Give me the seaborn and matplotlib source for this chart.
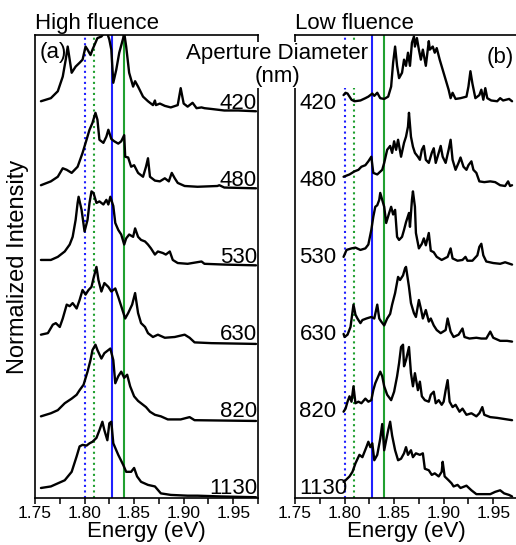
import numpy as np
import matplotlib
matplotlib.use("Agg")
import matplotlib.pyplot as plt
from matplotlib.ticker import MultipleLocator
import seaborn as sns

sns.set_theme(style="ticks")
plt.rcParams['font.family'] = ['Liberation Sans', 'DejaVu Sans']
plt.rcParams['text.color'] = 'black'
plt.rcParams['axes.labelcolor'] = 'black'
plt.rcParams['xtick.color'] = 'black'
plt.rcParams['xtick.labelcolor'] = 'black'

# aperture diameters (nm), top to bottom
diameters = ['420', '480', '530', '630', '820', '1130']

# reference energies (eV) marked by vertical lines
line_energies = [1.800, 1.810, 1.828, 1.840]
line_colors = ['#2020ff', '#20a030', '#2020ff', '#20a030']
line_styles = [':', ':', '-', '-']

# high fluence spectra: (energy eV, normalized intensity)
high_420 = [(1.756, 0.15), (1.766, 0.19), (1.773, 0.28), (1.778, 0.47), (1.781, 0.69), (1.783, 0.86),
            (1.785, 0.69), (1.787, 0.52), (1.791, 0.60), (1.795, 0.65), (1.798, 0.69), (1.801, 0.86),
            (1.803, 0.82), (1.806, 0.75), (1.808, 0.82), (1.811, 0.91), (1.813, 0.97), (1.817, 0.99),
            (1.820, 1.04), (1.823, 1.03), (1.825, 0.95), (1.827, 0.82), (1.829, 0.39), (1.832, 0.56),
            (1.835, 0.78), (1.839, 0.97), (1.840, 1.04), (1.842, 0.86), (1.845, 0.52), (1.849, 0.34),
            (1.851, 0.41), (1.854, 0.34), (1.859, 0.21), (1.864, 0.15), (1.869, 0.10), (1.871, 0.16),
            (1.872, 0.10), (1.876, 0.12), (1.881, 0.09), (1.887, 0.07), (1.894, 0.10), (1.897, 0.32),
            (1.900, 0.12), (1.904, 0.08), (1.909, 0.13), (1.913, 0.06), (1.918, 0.07), (1.921, 0.06),
            (1.928, 0.05), (1.941, 0.03), (1.955, 0.03), (1.973, 0.02)]
high_480 = [(1.756, 0.06), (1.766, 0.11), (1.773, 0.17), (1.778, 0.28), (1.782, 0.26), (1.787, 0.22),
            (1.793, 0.30), (1.798, 0.48), (1.802, 0.65), (1.805, 0.78), (1.808, 0.87), (1.811, 1.00),
            (1.813, 0.91), (1.815, 0.65), (1.819, 0.61), (1.822, 0.69), (1.824, 0.78), (1.827, 0.66),
            (1.830, 0.63), (1.834, 0.60), (1.837, 0.63), (1.840, 0.71), (1.841, 0.43), (1.844, 0.42),
            (1.847, 0.30), (1.850, 0.32), (1.854, 0.22), (1.859, 0.17), (1.862, 0.30), (1.864, 0.41),
            (1.866, 0.17), (1.871, 0.12), (1.876, 0.11), (1.881, 0.15), (1.885, 0.11), (1.888, 0.22),
            (1.891, 0.15), (1.894, 0.09), (1.901, 0.05), (1.914, 0.04), (1.934, 0.05), (1.936, 0.06),
            (1.941, 0.03), (1.973, 0.02)]
high_530 = [(1.756, 0.09), (1.766, 0.09), (1.773, 0.13), (1.780, 0.20), (1.785, 0.29), (1.788, 0.39),
            (1.791, 0.61), (1.793, 0.83), (1.794, 0.91), (1.797, 0.74), (1.800, 0.46), (1.803, 0.61),
            (1.805, 0.83), (1.807, 0.98), (1.809, 0.96), (1.812, 0.83), (1.815, 0.85), (1.819, 0.81),
            (1.822, 0.87), (1.824, 0.81), (1.826, 0.91), (1.829, 0.79), (1.831, 0.57), (1.834, 0.48),
            (1.837, 0.42), (1.840, 0.29), (1.842, 0.37), (1.845, 0.42), (1.849, 0.39), (1.851, 0.50),
            (1.854, 0.39), (1.857, 0.35), (1.861, 0.33), (1.864, 0.29), (1.867, 0.24), (1.871, 0.16),
            (1.874, 0.20), (1.879, 0.18), (1.882, 0.16), (1.886, 0.20), (1.889, 0.09), (1.894, 0.05),
            (1.904, 0.04), (1.918, 0.07), (1.921, 0.04), (1.941, 0.03), (1.973, 0.02)]
high_630 = [(1.756, 0.12), (1.763, 0.14), (1.768, 0.25), (1.771, 0.27), (1.775, 0.22), (1.778, 0.33),
            (1.782, 0.51), (1.785, 0.49), (1.788, 0.53), (1.792, 0.46), (1.795, 0.57), (1.798, 0.70),
            (1.801, 0.64), (1.804, 0.70), (1.807, 0.74), (1.809, 0.85), (1.812, 1.00), (1.814, 0.83),
            (1.817, 0.68), (1.820, 0.79), (1.824, 0.74), (1.827, 0.68), (1.831, 0.72), (1.834, 0.61),
            (1.837, 0.49), (1.841, 0.33), (1.844, 0.40), (1.848, 0.51), (1.851, 0.66), (1.854, 0.40),
            (1.857, 0.27), (1.861, 0.22), (1.864, 0.14), (1.869, 0.09), (1.874, 0.12), (1.881, 0.08),
            (1.891, 0.09), (1.901, 0.12), (1.906, 0.08), (1.911, 0.02), (1.928, 0.01), (1.973, 0.00)]
high_820 = [(1.756, 0.06), (1.766, 0.10), (1.773, 0.14), (1.780, 0.23), (1.787, 0.29), (1.792, 0.34),
            (1.795, 0.40), (1.799, 0.47), (1.803, 0.64), (1.806, 0.79), (1.808, 0.92), (1.811, 0.99),
            (1.813, 0.92), (1.817, 0.81), (1.820, 0.88), (1.824, 0.92), (1.826, 0.94), (1.829, 0.79),
            (1.831, 0.49), (1.834, 0.58), (1.837, 0.64), (1.840, 0.56), (1.843, 0.60), (1.846, 0.45),
            (1.850, 0.32), (1.854, 0.26), (1.859, 0.21), (1.862, 0.18), (1.866, 0.12), (1.871, 0.08),
            (1.877, 0.06), (1.884, 0.02), (1.897, 0.02), (1.906, 0.05), (1.911, 0.01), (1.973, 0.00)]
high_1130 = [(1.756, 0.13), (1.766, 0.15), (1.773, 0.19), (1.780, 0.23), (1.787, 0.34), (1.792, 0.54),
             (1.795, 0.67), (1.798, 0.69), (1.802, 0.68), (1.805, 0.71), (1.808, 0.73), (1.812, 0.78),
             (1.815, 0.88), (1.818, 0.99), (1.820, 0.88), (1.823, 0.75), (1.825, 0.97), (1.827, 0.99),
             (1.829, 0.71), (1.834, 0.56), (1.839, 0.43), (1.842, 0.34), (1.847, 0.34), (1.850, 0.39),
             (1.853, 0.28), (1.857, 0.21), (1.864, 0.17), (1.871, 0.15), (1.877, 0.06), (1.887, 0.04),
             (1.904, 0.03), (1.914, 0.03), (1.938, 0.02), (1.973, 0.01)]

# low fluence spectra: (energy eV, normalized intensity)
low_420 = [(1.799, 0.23), (1.801, 0.26), (1.803, 0.25), (1.807, 0.17), (1.810, 0.15), (1.816, 0.16),
           (1.821, 0.19), (1.824, 0.21), (1.828, 0.25), (1.830, 0.22), (1.833, 0.26), (1.836, 0.19),
           (1.840, 0.18), (1.844, 0.21), (1.847, 0.34), (1.849, 0.65), (1.851, 0.86), (1.853, 0.61),
           (1.855, 0.45), (1.858, 0.52), (1.860, 0.69), (1.862, 0.61), (1.864, 0.78), (1.866, 0.61),
           (1.868, 0.91), (1.870, 0.99), (1.871, 0.86), (1.873, 0.97), (1.875, 0.82), (1.877, 0.69),
           (1.879, 0.82), (1.882, 0.61), (1.885, 0.93), (1.886, 0.82), (1.889, 0.86), (1.891, 0.78),
           (1.893, 0.84), (1.896, 0.69), (1.899, 0.56), (1.902, 0.43), (1.905, 0.30), (1.907, 0.19),
           (1.909, 0.26), (1.912, 0.18), (1.917, 0.19), (1.923, 0.21), (1.925, 0.34), (1.927, 0.54),
           (1.929, 0.38), (1.932, 0.19), (1.936, 0.23), (1.938, 0.30), (1.940, 0.17), (1.942, 0.32),
           (1.944, 0.19), (1.948, 0.16), (1.954, 0.15), (1.957, 0.19), (1.960, 0.16), (1.966, 0.18),
           (1.969, 0.15)]
low_480 = [(1.799, 0.17), (1.805, 0.20), (1.810, 0.24), (1.814, 0.26), (1.817, 0.30), (1.821, 0.32),
           (1.824, 0.37), (1.827, 0.43), (1.829, 0.22), (1.833, 0.20), (1.838, 0.26), (1.840, 0.35),
           (1.843, 0.52), (1.846, 0.57), (1.848, 0.48), (1.850, 0.63), (1.852, 0.52), (1.854, 0.65),
           (1.857, 0.43), (1.860, 0.61), (1.862, 0.69), (1.864, 0.82), (1.865, 1.00), (1.867, 0.69),
           (1.869, 0.56), (1.871, 0.48), (1.874, 0.43), (1.876, 0.39), (1.878, 0.52), (1.880, 0.57),
           (1.882, 0.39), (1.885, 0.35), (1.888, 0.48), (1.890, 0.54), (1.892, 0.35), (1.895, 0.48),
           (1.897, 0.57), (1.899, 0.43), (1.902, 0.35), (1.905, 0.52), (1.907, 0.65), (1.909, 0.39),
           (1.912, 0.26), (1.915, 0.35), (1.917, 0.42), (1.920, 0.30), (1.923, 0.26), (1.925, 0.32),
           (1.928, 0.37), (1.930, 0.26), (1.933, 0.22), (1.936, 0.11), (1.941, 0.10), (1.947, 0.11),
           (1.952, 0.10), (1.957, 0.06), (1.962, 0.05), (1.965, 0.11), (1.967, 0.05), (1.969, 0.06)]
low_530 = [(1.799, 0.13), (1.802, 0.22), (1.807, 0.24), (1.811, 0.25), (1.816, 0.22), (1.821, 0.24),
           (1.824, 0.29), (1.827, 0.48), (1.829, 0.65), (1.831, 0.78), (1.833, 0.80), (1.835, 0.87),
           (1.836, 0.96), (1.838, 0.87), (1.840, 0.78), (1.842, 0.57), (1.845, 0.70), (1.847, 0.78),
           (1.849, 0.68), (1.851, 0.74), (1.853, 0.39), (1.855, 0.35), (1.858, 0.39), (1.860, 0.48),
           (1.862, 0.58), (1.865, 0.70), (1.866, 0.52), (1.868, 0.87), (1.869, 0.98), (1.871, 0.78),
           (1.872, 0.44), (1.875, 0.24), (1.878, 0.30), (1.880, 0.37), (1.882, 0.28), (1.885, 0.44),
           (1.887, 0.21), (1.890, 0.19), (1.893, 0.13), (1.898, 0.09), (1.904, 0.13), (1.907, 0.24),
           (1.909, 0.11), (1.914, 0.08), (1.919, 0.09), (1.922, 0.13), (1.924, 0.08), (1.929, 0.08),
           (1.934, 0.15), (1.936, 0.26), (1.938, 0.30), (1.940, 0.15), (1.943, 0.07), (1.950, 0.05),
           (1.957, 0.04), (1.962, 0.06), (1.969, 0.03)]
low_630 = [(1.799, 0.13), (1.800, 0.09), (1.803, 0.12), (1.806, 0.22), (1.809, 0.51), (1.811, 0.38),
           (1.813, 0.33), (1.816, 0.27), (1.818, 0.31), (1.822, 0.33), (1.827, 0.35), (1.830, 0.33),
           (1.833, 0.51), (1.835, 0.33), (1.837, 0.29), (1.840, 0.24), (1.843, 0.33), (1.846, 0.39),
           (1.848, 0.51), (1.851, 0.66), (1.854, 0.87), (1.856, 0.83), (1.859, 0.89), (1.861, 0.98),
           (1.862, 1.00), (1.865, 0.74), (1.867, 0.53), (1.870, 0.40), (1.872, 0.35), (1.875, 0.57),
           (1.877, 0.46), (1.879, 0.33), (1.882, 0.44), (1.885, 0.29), (1.887, 0.33), (1.890, 0.24),
           (1.893, 0.18), (1.897, 0.14), (1.902, 0.18), (1.904, 0.33), (1.907, 0.16), (1.910, 0.09),
           (1.915, 0.12), (1.919, 0.20), (1.921, 0.09), (1.926, 0.07), (1.933, 0.08), (1.938, 0.07),
           (1.943, 0.07), (1.947, 0.16), (1.950, 0.08), (1.957, 0.04), (1.964, 0.04), (1.969, 0.03)]
low_820 = [(1.799, 0.12), (1.801, 0.16), (1.803, 0.25), (1.805, 0.32), (1.807, 0.25), (1.809, 0.45),
           (1.811, 0.23), (1.814, 0.25), (1.817, 0.23), (1.821, 0.29), (1.824, 0.25), (1.827, 0.27),
           (1.829, 0.40), (1.831, 0.49), (1.833, 0.55), (1.836, 0.64), (1.838, 0.58), (1.840, 0.45),
           (1.843, 0.34), (1.847, 0.27), (1.850, 0.38), (1.853, 0.58), (1.855, 0.75), (1.857, 0.96),
           (1.859, 0.99), (1.860, 0.71), (1.862, 0.79), (1.865, 0.96), (1.867, 0.62), (1.869, 0.45),
           (1.871, 0.62), (1.874, 0.40), (1.876, 0.51), (1.878, 0.32), (1.881, 0.27), (1.885, 0.25),
           (1.887, 0.34), (1.890, 0.38), (1.892, 0.23), (1.895, 0.27), (1.898, 0.21), (1.900, 0.25),
           (1.902, 0.40), (1.904, 0.53), (1.906, 0.25), (1.909, 0.18), (1.912, 0.21), (1.916, 0.12),
           (1.919, 0.16), (1.923, 0.08), (1.928, 0.10), (1.933, 0.06), (1.936, 0.10), (1.939, 0.18),
           (1.941, 0.08), (1.947, 0.05), (1.954, 0.04), (1.959, 0.03), (1.964, 0.02), (1.969, 0.01)]
low_1130 = [(1.799, 0.21), (1.801, 0.23), (1.805, 0.28), (1.808, 0.34), (1.811, 0.45), (1.815, 0.56),
            (1.818, 0.53), (1.822, 0.66), (1.824, 0.73), (1.826, 0.66), (1.828, 0.71), (1.830, 0.49),
            (1.833, 0.56), (1.836, 0.77), (1.838, 0.96), (1.840, 0.62), (1.842, 0.75), (1.844, 0.88),
            (1.846, 0.99), (1.848, 0.81), (1.851, 0.62), (1.854, 0.49), (1.857, 0.51), (1.860, 0.58),
            (1.862, 0.66), (1.864, 0.56), (1.867, 0.62), (1.869, 0.53), (1.872, 0.58), (1.876, 0.56),
            (1.879, 0.58), (1.881, 0.38), (1.885, 0.36), (1.888, 0.30), (1.891, 0.32), (1.895, 0.28),
            (1.898, 0.34), (1.899, 0.47), (1.901, 0.28), (1.905, 0.23), (1.908, 0.19), (1.910, 0.15),
            (1.914, 0.17), (1.917, 0.13), (1.923, 0.16), (1.928, 0.10), (1.933, 0.05), (1.940, 0.05),
            (1.947, 0.05), (1.952, 0.08), (1.957, 0.10), (1.961, 0.06), (1.966, 0.04), (1.969, 0.02)]

high = [high_420, high_480, high_530, high_630, high_820, high_1130]
low = [low_420, low_480, low_530, low_630, low_820, low_1130]

W, H = 516, 545
fig = plt.figure(figsize=(W / 100, H / 100), dpi=100)


def px_axes(x0, y0, x1, y1):
    return fig.add_axes([x0 / W, 1 - y1 / H, (x1 - x0) / W, (y1 - y0) / H])


ax_a = px_axes(35, 35, 258, 498)
ax_b = px_axes(295, 35, 518, 498)

for ax, spectra, side in [(ax_a, high, 'right'), (ax_b, low, 'left')]:
    for e, c, ls in zip(line_energies, line_colors, line_styles):
        ax.axvline(e, color=c, ls=ls, lw=1.5, zorder=1)
    n = len(diameters)
    for i, (d, spec) in enumerate(zip(diameters, spectra)):
        off = n - 1 - i
        en = np.array([p[0] for p in spec])
        val = np.array([p[1] for p in spec]) + off
        sns.lineplot(x=en, y=val, ax=ax, color='black', lw=1.7,
                     estimator=None, sort=False, zorder=3)
        if side == 'right':
            ax.text(1.974, off + 0.05, d, ha='right', va='baseline', fontsize=16, zorder=4)
        else:
            ax.text(1.7545, off + 0.05, d, ha='left', va='baseline', fontsize=16, zorder=4)
    ax.set_xlim(1.75, 1.975)
    ax.set_ylim(0, 6.01)
    ax.set_yticks([])
    ax.xaxis.set_major_locator(MultipleLocator(0.05))
    ax.xaxis.set_minor_locator(MultipleLocator(0.025))
    ax.xaxis.set_major_formatter(matplotlib.ticker.FormatStrFormatter('%.2f'))
    ax.tick_params(axis='x', which='both', direction='out', length=4, width=1.1,
                   labelsize=12.5, pad=2, color='black', labelcolor='black')
    for s in ax.spines.values():
        s.set_linewidth(1.2)
        s.set_color('black')
    ax.set_xlabel('Energy (eV)', fontsize=16, labelpad=0, color='black')
    ax.set_ylabel('')

ax_a.set_ylabel('Normalized Intensity', fontsize=17, labelpad=4, color='black')
ax_a.text(0.02, 0.985, '(a)', transform=ax_a.transAxes, ha='left', va='top', fontsize=16)
ax_b.text(0.86, 0.975, '(b)', transform=ax_b.transAxes, ha='left', va='top', fontsize=16)

fig.text(35 / W, 1 - 29 / H, 'High fluence', ha='left', va='baseline', fontsize=16)
fig.text(295 / W, 1 - 29 / H, 'Low fluence', ha='left', va='baseline', fontsize=16)
fig.text(277 / W, 1 - 65 / H, 'Aperture Diameter\n(nm)', ha='center', va='center',
         fontsize=16, linespacing=1.1, zorder=10,
         bbox=dict(fc='white', ec='none', pad=0.6))

fig.savefig('out.png', dpi=100)
